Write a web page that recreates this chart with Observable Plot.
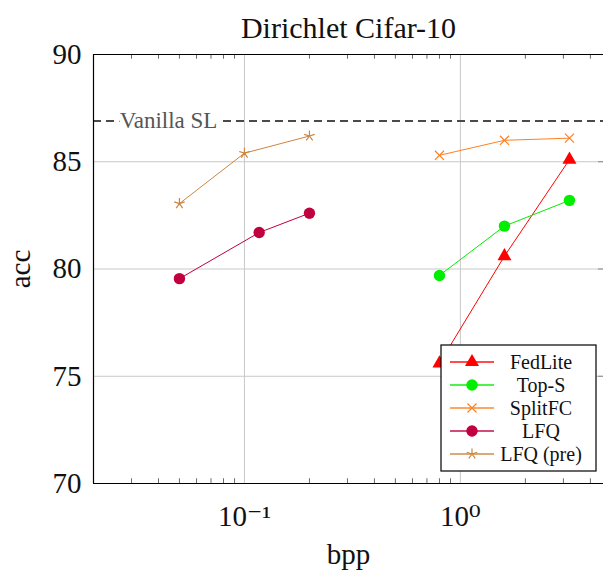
<!DOCTYPE html>
<html>
<head>
<meta charset="utf-8">
<script src="https://cdn.jsdelivr.net/npm/d3@7"></script>
<script src="https://cdn.jsdelivr.net/npm/@observablehq/plot@0.6"></script>
<style>
  html, body { margin: 0; padding: 0; background: #fff; }
  #chart svg { display: block; }
</style>
</head>
<body>
<div id="chart"></div>
<script>
// ---- data ----
const series = ["FedLite", "Top-S", "SplitFC", "LFQ", "LFQ (pre)"];
const colors = ["#ff0000", "#00ee00", "#ff8020", "#c0003f", "#cc8540"];
const highX = [0.8, 1.6, 3.2];
const fedliteY = [75.6, 80.6, 85.1];
const topSY = [79.7, 82.0, 83.2];
const splitFCY = [85.3, 86.0, 86.1];
const lfqX = [0.05, 0.117, 0.2];
const lfqY = [79.55, 81.7, 82.6];
const lfqPreX = [0.05, 0.1, 0.2];
const lfqPreY = [83.05, 85.4, 86.2];
const vanillaSL = 86.9;
const vanillaLabel = "Vanilla SL";
const vanillaLabelX = 0.0445;
const xDomain = [0.02, 4.6];
const yDomain = [70, 90];
const yTicks = [70, 75, 80, 85, 90];
const yGrid = [75, 80, 85];
const xMajor = [0.1, 1];
const xMajorLabels = ["10\u207B\u00B9", "10\u2070"];
const xMinor = [0.03, 0.04, 0.05, 0.06, 0.07, 0.08, 0.09, 0.2, 0.3, 0.4, 0.5, 0.6, 0.7, 0.8, 0.9, 2, 3, 4];

// pgfplots-like 5-arm star
const star5 = {
  draw(context, size) {
    const r = Math.sqrt(size / Math.PI) * 1.1;
    for (let i = 0; i < 5; i++) {
      const a = -Math.PI / 2 + i * 2 * Math.PI / 5;
      context.moveTo(0, 0);
      context.lineTo(r * Math.cos(a), r * Math.sin(a));
    }
  }
};
const symbols = ["triangle", "circle", "times", "circle", star5];
const filled = [true, true, false, true, false];
const sizes = [5.2, 5.7, 4.2, 5.7, 5];

const rows = [];
function add(name, xs, ys) { xs.forEach((x, i) => rows.push({series: name, x, y: ys[i]})); }
add("FedLite", highX, fedliteY);
add("Top-S", highX, topSY);
add("SplitFC", highX, splitFCY);
add("LFQ", lfqX, lfqY);
add("LFQ (pre)", lfqPreX, lfqPreY);

const font = "'Liberation Serif', 'DejaVu Serif', serif";

const marks = [];
// grid
marks.push(Plot.ruleY(yGrid, {stroke: "#c8c8c8", strokeWidth: 1}));
marks.push(Plot.ruleX(xMajor, {stroke: "#c8c8c8", strokeWidth: 1}));
// minor ticks (inward) on bottom and top
marks.push(Plot.ruleX(xMinor, {y1: 70, y2: 70.22, stroke: "#444", strokeWidth: 0.8}));
marks.push(Plot.ruleX(xMinor, {y1: 89.78, y2: 90, stroke: "#444", strokeWidth: 0.8}));
// right side y ticks (inward)
marks.push(Plot.ruleY(yGrid, {x1: 4.36, x2: 4.6, stroke: "#888", strokeWidth: 1}));
// vanilla line
marks.push(Plot.ruleY([vanillaSL], {stroke: "#4a4a4a", strokeWidth: 2, strokeDasharray: "8,5"}));
marks.push(Plot.text([vanillaLabel], {x: vanillaLabelX, y: vanillaSL, text: d => d, fill: "#555", stroke: "white", strokeWidth: 10, fontSize: 23, fontFamily: font}));
// series
series.forEach((s, i) => {
  const data = rows.filter(d => d.series === s);
  marks.push(Plot.line(data, {x: "x", y: "y", stroke: colors[i], strokeWidth: 1}));
  marks.push(Plot.dot(data, {
    x: "x", y: "y", symbol: () => symbols[i], r: sizes[i],
    fill: filled[i] ? colors[i] : "none",
    stroke: filled[i] ? "none" : colors[i],
    strokeWidth: 1.2
  }));
});
// frame (left, top, bottom)
marks.push(Plot.ruleX([xDomain[0]], {stroke: "#000", strokeWidth: 1.2}));
marks.push(Plot.ruleY([yDomain[0], yDomain[1]], {stroke: "#000", strokeWidth: 1.2}));
// axes
marks.push(Plot.axisY({ticks: yTicks, tickSize: 0, tickPadding: 12, fontSize: 29, fontFamily: font, label: "acc", labelAnchor: "center", labelOffset: 84, labelArrow: "none"}));
marks.push(Plot.axisX({ticks: xMajor, tickSize: 0, tickPadding: 22, fontSize: 29, fontFamily: font,
  tickFormat: (d) => xMajorLabels[xMajor.indexOf(d)], label: "bpp", labelAnchor: "center", labelOffset: 80, labelArrow: "none"}));
// title
marks.push(Plot.text(["Dirichlet Cifar-10"], {frameAnchor: "top", text: d => d, dy: -38, fontSize: 30, fontFamily: font, fill: "#111"}));

const chart = Plot.plot({
  width: 603,
  height: 571,
  marginLeft: 93,
  marginRight: 0,
  marginTop: 54,
  marginBottom: 88,
  style: {fontFamily: font, color: "#111", background: "#fff", overflow: "hidden"},
  x: {type: "log", domain: xDomain},
  y: {domain: yDomain},
  marks
});
document.getElementById("chart").appendChild(chart);

// ---- legend drawn into the svg ----
const svg = d3.select(chart);
const lg = svg.append("g").attr("transform", "translate(441,345)").style("font-family", font);
lg.append("rect").attr("width", 155).attr("height", 126).attr("fill", "white").attr("stroke", "#000").attr("stroke-width", 1.2);
series.forEach((s, i) => {
  const y = 17 + i * 23;
  const g = lg.append("g").attr("transform", `translate(0,${y})`);
  g.append("line").attr("x1", 9).attr("x2", 53).attr("y1", 0).attr("y2", 0)
    .attr("stroke", colors[i]).attr("stroke-width", 1.8).attr("stroke-opacity", 0.7);
  const symType = typeof symbols[i] === "string"
    ? ({triangle: d3.symbolTriangle, circle: d3.symbolCircle, times: d3.symbolTimes})[symbols[i]]
    : symbols[i];
  g.append("path").attr("transform", "translate(31,0)")
    .attr("d", d3.symbol(symType, Math.PI * sizes[i] * sizes[i])())
    .attr("fill", filled[i] ? colors[i] : "none")
    .attr("stroke", filled[i] ? "none" : colors[i]).attr("stroke-width", 1.2);
  g.append("text").attr("x", 100).attr("y", 0).attr("dy", "0.35em").attr("text-anchor", "middle")
    .attr("font-size", 20).attr("fill", "#111").text(s);
});
</script>
</body>
</html>
